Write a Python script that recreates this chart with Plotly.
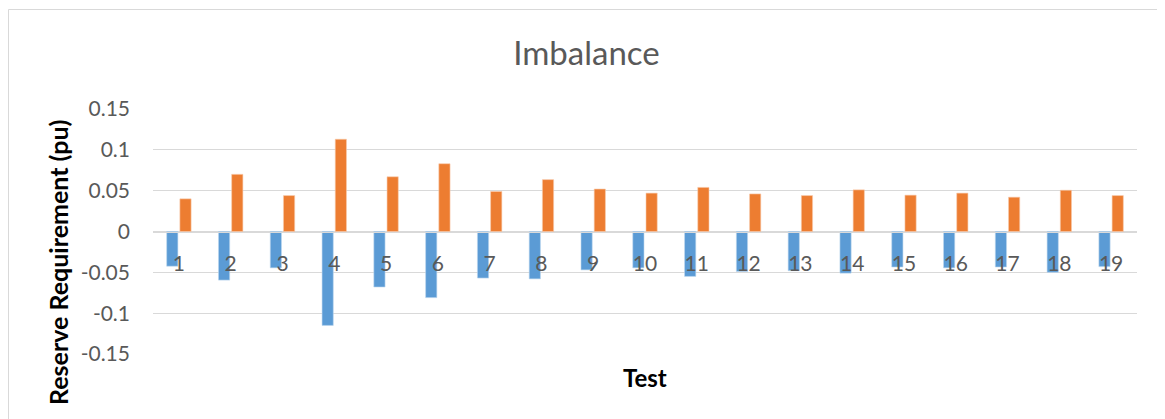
import plotly.graph_objects as go

tests = [str(i) for i in range(1, 20)]
down = [-0.0425, -0.0595, -0.0445, -0.115, -0.068, -0.081, -0.057, -0.058, -0.047, -0.0445,
        -0.055, -0.049, -0.048, -0.051, -0.0435, -0.0445, -0.0435, -0.050, -0.043]
up = [0.040, 0.070, 0.044, 0.113, 0.067, 0.083, 0.049, 0.0635, 0.052, 0.047,
      0.054, 0.046, 0.044, 0.051, 0.0445, 0.047, 0.042, 0.0505, 0.044]
y_ticks = [-0.15, -0.1, -0.05, 0, 0.05, 0.1, 0.15]
y_tick_text = ["-0.15", "-0.1", "-0.05", "0", "0.05", "0.1", "0.15"]

FONT = "Lato"
GREY = "#595959"

# page has an 8px body margin, so the figure is drawn at (8,8)
W, H = 1157, 411
L, R, T, B = 145, 28, 101, 65
PW, PH = W - L - R, H - T - B

fig = go.Figure()
fig.add_trace(go.Bar(x=tests, y=down, name="Down",
                     marker=dict(color="#5B9BD5", line=dict(color="#BDD7EE", width=0.6))))
fig.add_trace(go.Bar(x=tests, y=up, name="Up",
                     marker=dict(color="#ED7D31", line=dict(color="#F8CBAD", width=0.6))))

fig.update_layout(
    width=W, height=H,
    margin=dict(l=L, r=R, t=T, b=B),
    paper_bgcolor="white", plot_bgcolor="white",
    barmode="group", bargap=0.49, bargroupgap=0.15,
    showlegend=False,
    font=dict(family=FONT, color=GREY),
    title=dict(text="Imbalance", x=0.5, xanchor="center", y=1 - 45 / H, yanchor="middle",
               font=dict(size=33, color=GREY, family=FONT)),
    xaxis=dict(anchor="free", position=0.5, showline=True, linecolor="#D9D9D9", linewidth=1,
               ticks="", showgrid=False, tickfont=dict(size=21, color=GREY),
               ticklabelstandoff=13),
    yaxis=dict(range=[-0.15, 0.15], tickvals=y_ticks, ticktext=y_tick_text,
               showgrid=True, gridcolor="#D9D9D9", gridwidth=1, zeroline=False,
               tickfont=dict(size=21, color=GREY), ticklabelstandoff=22),
)
fig.add_annotation(text="<b>Reserve Requirement (pu)</b>", xref="paper", yref="paper",
                   x=(50 - L) / PW, y=(T + PH - 255) / PH, textangle=-90, showarrow=False,
                   font=dict(size=25, color="black"), xanchor="center", yanchor="middle")
fig.add_annotation(text="<b>Test</b>", xref="paper", yref="paper", x=0.5, y=(T + PH - 369) / PH,
                   showarrow=False, font=dict(size=24, color="black"), yanchor="middle")
fig.add_shape(type="rect", xref="paper", yref="paper",
              x0=(0.5 - L) / PW, x1=(1149.5 - L) / PW, y0=-0.4, y1=(T + PH - 1.5) / PH,
              line=dict(color="#D9D9D9", width=1), layer="below")
fig.write_html("out.html")
